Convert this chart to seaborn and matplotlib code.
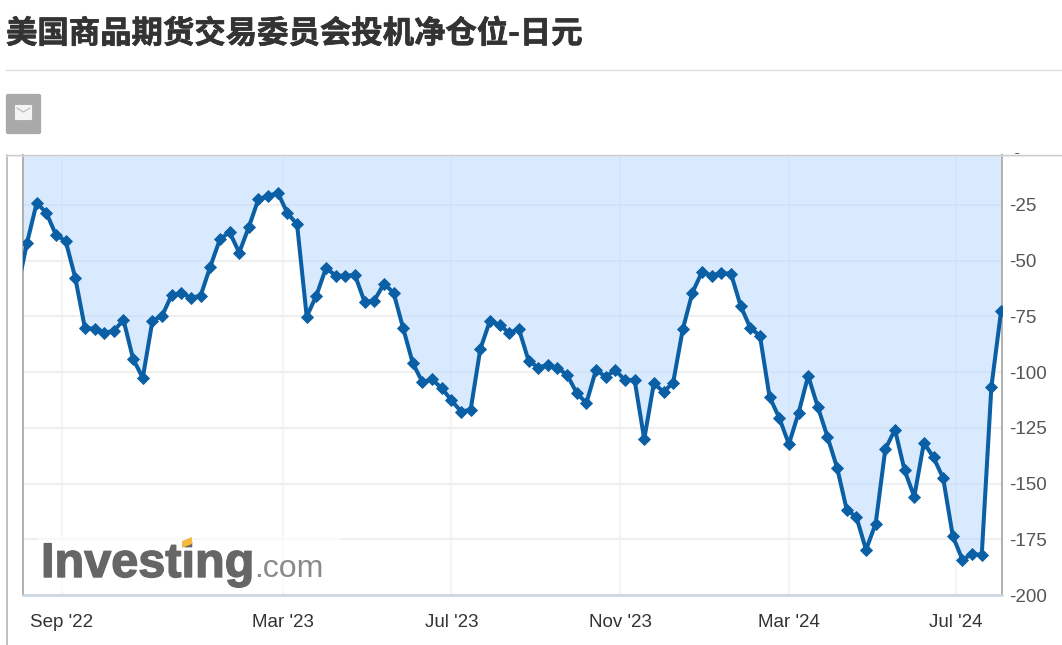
import numpy as np
import pandas as pd
import matplotlib.pyplot as plt
import matplotlib.patheffects as pe
import seaborn as sns
from matplotlib.lines import Line2D
from matplotlib.patches import FancyBboxPatch, Polygon, Rectangle

title = '美国商品期货交易委员会投机净仓位-日元'

# weekly net positions, first value sits just left of the visible window
net_position = [
    -62.7, -42.0, -24.1, -28.5, -38.5, -41.1, -57.7, -80.2, -80.6, -82.4,
    -81.5, -76.6, -94.1, -102.6, -77.0, -74.8, -65.4, -64.5, -66.7, -65.7,
    -52.7, -40.4, -37.2, -46.4, -34.9, -22.3, -21.1, -19.5, -28.7, -33.7,
    -75.1, -65.7, -53.3, -56.7, -56.8, -56.4, -68.5, -68.0, -60.4, -64.3,
    -80.3, -96.0, -104.5, -103.3, -107.2, -112.6, -117.7, -116.9, -89.7, -77.0,
    -78.8, -82.5, -80.6, -94.8, -98.0, -96.7, -98.2, -101.2, -109.4, -113.9,
    -99.0, -102.1, -99.1, -103.6, -103.5, -130.1, -105.0, -108.9, -104.7, -80.7,
    -64.3, -55.0, -56.7, -55.5, -55.9, -70.3, -80.2, -83.7, -111.2, -120.5,
    -132.3, -118.4, -101.7, -115.6, -129.0, -142.9, -161.8, -165.0, -179.7, -168.0,
    -134.6, -125.8, -144.1, -155.9, -131.7, -138.3, -147.6, -173.6, -184.2, -181.6,
    -182.0, -106.6, -72.8,
]
week_index = list(range(len(net_position)))

x_tick_weeks = [4.63, 27.5, 45.0, 62.5, 80.0, 97.3]
x_tick_labels = ["Sep '22", "Mar '23", "Jul '23", "Nov '23", "Mar '24", "Jul '24"]
y_ticks = [-25, -50, -75, -100, -125, -150, -175, -200]

W, H = 1062, 645
LINE = '#0b5fa5'


def fx(px):
    return px / W


def fy(py):
    return 1 - py / H


sns.set_theme(style='white')
plt.rcParams['font.family'] = ['Liberation Sans', 'Noto Sans CJK SC', 'DejaVu Sans']

df = pd.DataFrame({'week': week_index, 'net': net_position})

fig = plt.figure(figsize=(W / 100, H / 100), dpi=100, facecolor='white')
ax = fig.add_axes([fx(23), fy(595), fx(1002) - fx(23), fy(155) - fy(595)])

# grid first, then the translucent fill so the lines show through it
ax.set_axisbelow(True)
ax.grid(True, axis='y', color='#efefef', lw=1.5)
ax.grid(True, axis='x', color='#f4f4f4', lw=1.5)
ax.fill_between(df.week, df.net, 0, color='#b4d7fe', alpha=0.5, lw=0, zorder=1.5)

# no marker on the off-window point, its corner pokes past the left edge otherwise
sns.lineplot(data=df, x='week', y='net', ax=ax, color=LINE, lw=2.9, marker='D',
             markersize=6, markeredgecolor=LINE, markeredgewidth=0.6, zorder=3,
             markevery=week_index[1:])

ax.set_xlim(0.58, 102.1)
ax.set_ylim(-200, -2.6)
ax.set_xticks(x_tick_weeks)
ax.set_xticklabels(x_tick_labels, fontsize=13.5, color='#333333')
ax.set_yticks(y_ticks)
ax.yaxis.tick_right()
ax.set_yticklabels([str(v) for v in y_ticks], fontsize=13.5, color='#555555')
ax.tick_params(axis='x', length=0, pad=14)
ax.tick_params(axis='y', length=0, pad=4.8)
ax.set_xlabel('')
ax.set_ylabel('')

for side in ['left', 'right']:
    ax.spines[side].set_color('#b0b0b0')
    ax.spines[side].set_linewidth(1.4)
ax.spines['bottom'].set_color('#c9d5e0')
ax.spines['bottom'].set_linewidth(1.8)
ax.spines['top'].set_visible(False)

# logo watermark
fig.patches.append(Rectangle((fx(38), fy(592)), fx(340) - fx(38), fy(536) - fy(592),
                             transform=fig.transFigure, facecolor='white', alpha=0.6,
                             edgecolor='none', zorder=4))
logo = fig.text(fx(41), fy(577), 'Investing', fontsize=35, fontweight='bold', color='#666666',
                family='Liberation Sans', ha='left', va='baseline', zorder=5)
logo.set_path_effects([pe.withStroke(linewidth=1.0, foreground='#666666')])
fig.text(fx(254), fy(577), '.com', fontsize=23, color='#8a8a8a',
         family='Liberation Sans', ha='left', va='baseline', zorder=5)
fig.patches.append(Polygon([(fx(182), fy(541)), (fx(192), fy(537)), (fx(192), fy(544)), (fx(182), fy(548))],
                           closed=True, transform=fig.transFigure, facecolor='#f5b942',
                           edgecolor='none', zorder=6))

# page furniture around the chart
head = fig.text(fx(6), fy(34), title, fontsize=22.6, fontweight='bold', color='#333333',
                family=['Noto Sans CJK SC', 'DejaVu Sans'], ha='left', va='center')
head.set_path_effects([pe.withStroke(linewidth=0.5, foreground='#333333')])
fig.add_artist(Line2D([fx(6), 1], [fy(69.5), fy(69.5)], color='#dddddd', lw=1))

fig.patches.append(FancyBboxPatch((fx(8), fy(132)), fx(31), fy(96) - fy(132),
                                  boxstyle='round,pad=0.002', transform=fig.transFigure,
                                  facecolor='#a9a9a9', edgecolor='none', mutation_aspect=W / H))
fig.patches.append(FancyBboxPatch((fx(16), fy(119)), fx(15), fy(106) - fy(119),
                                  boxstyle='round,pad=0.001', transform=fig.transFigure,
                                  facecolor='#f4f4f4', edgecolor='none', mutation_aspect=W / H))
fig.add_artist(Line2D([fx(17), fx(23.5), fx(30)], [fy(108), fy(112), fy(108)], color='#bdbdbd', lw=0.9))

# clipped zero label poking out under the panel top
fig.text(fx(1011), fy(149), '0', fontsize=13.5, color='#555555', ha='left', va='center', zorder=1)
fig.patches.append(Rectangle((fx(1004), fy(153.5)), fx(58), fy(135) - fy(153.5),
                             transform=fig.transFigure, facecolor='white', edgecolor='none', zorder=2))
fig.add_artist(Line2D([fx(6), 1], [fy(155), fy(155)], color='#cccccc', lw=1, zorder=7))
fig.add_artist(Line2D([fx(6), 1], [fy(156.2), fy(156.2)], color='#e2e2e2', lw=0.8, alpha=0.6, zorder=7))
fig.add_artist(Line2D([fx(6.5), fx(6.5)], [fy(155), 0], color='#b0b0b0', lw=1.1))

fig.savefig('out.png', dpi=100)
